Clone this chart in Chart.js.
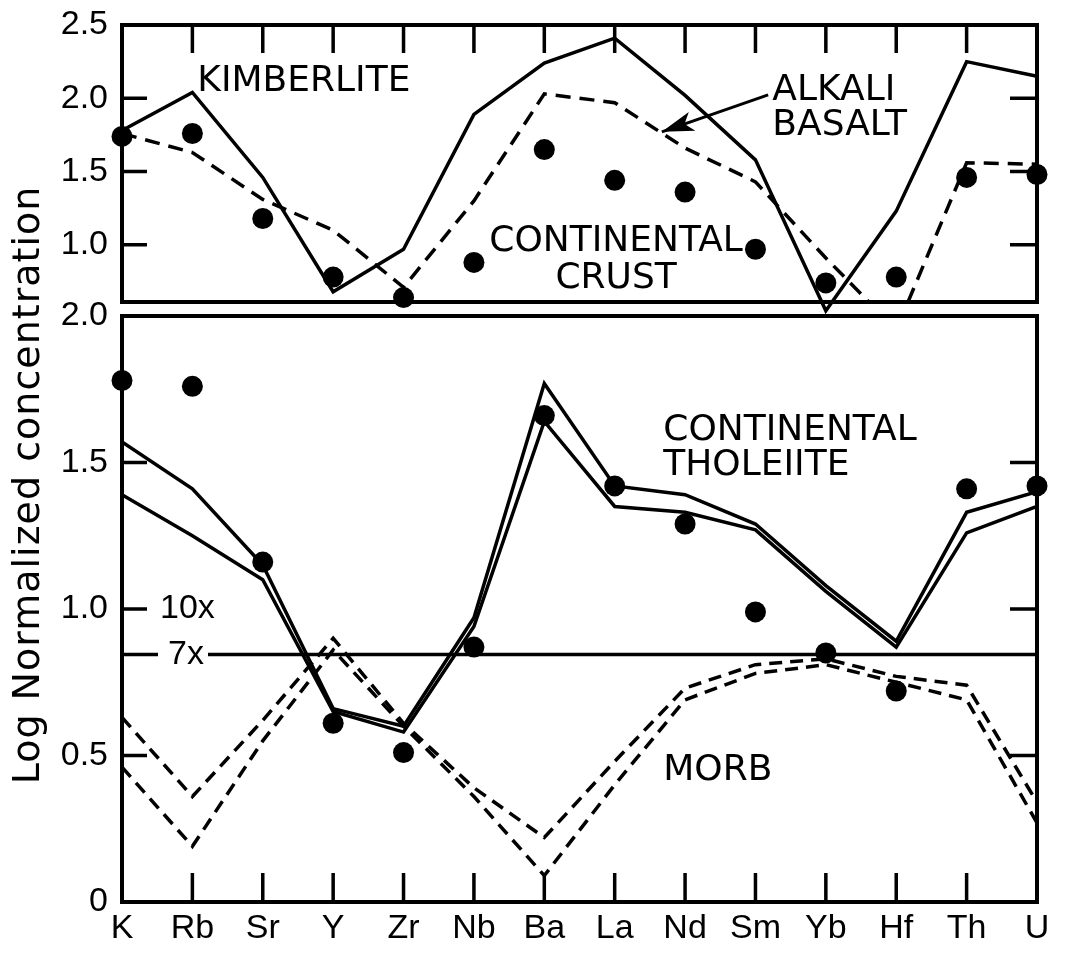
<!DOCTYPE html>
<html>
<head>
<meta charset="utf-8">
<script src="https://cdn.jsdelivr.net/npm/chart.js@4.4.1/dist/chart.umd.min.js"></script>
<style>
  html, body { margin: 0; padding: 0; background: #fff; }
  #wrap { width: 1078px; height: 956px; }
</style>
</head>
<body>
<div id="wrap"><canvas id="chart" width="1078" height="956"></canvas></div>
<script>
// trace elements along the x axis
const ELEMENTS = ['K', 'Rb', 'Sr', 'Y', 'Zr', 'Nb', 'Ba', 'La', 'Nd', 'Sm', 'Yb', 'Hf', 'Th', 'U'];

// upper panel (log normalized)
const KIMBERLITE    = [1.78, 2.04, 1.46, 0.68, 0.97, 1.89, 2.24, 2.41, 2.02, 1.58, 0.55, 1.23, 2.25, 2.15];
const ALKALI_BASALT = [1.76, 1.63, 1.31, 1.10, 0.71, 1.30, 2.03, 1.97, 1.66, 1.43, 0.91, 0.42, 1.56, 1.55];
const CRUST_UPPER   = [1.74, 1.76, 1.18, 0.78, 0.64, 0.88, 1.65, 1.44, 1.36, 0.97, 0.74, 0.78, 1.46, 1.48];

// lower panel
const THOLEIITE_A = [1.57, 1.41, 1.15, 0.66, 0.60, 0.97, 1.77, 1.42, 1.39, 1.29, 1.08, 0.89, 1.33, 1.40];
const THOLEIITE_B = [1.39, 1.25, 1.10, 0.65, 0.58, 0.94, 1.64, 1.35, 1.33, 1.27, 1.06, 0.87, 1.26, 1.35];
const MORB_A      = [0.63, 0.36, 0.62, 0.90, 0.61, 0.39, 0.22, 0.48, 0.73, 0.81, 0.83, 0.77, 0.74, 0.34];
const MORB_B      = [0.46, 0.19, 0.55, 0.86, 0.60, 0.36, 0.09, 0.40, 0.69, 0.78, 0.81, 0.75, 0.69, 0.27];
const CRUST_LOWER = [1.78, 1.76, 1.16, 0.61, 0.51, 0.87, 1.66, 1.42, 1.29, 0.99, 0.85, 0.72, 1.41, 1.42];

// axis ticks
const TOP_TICKS = [1.0, 1.5, 2.0, 2.5];
const BOTTOM_TICKS = [0, 0.5, 1.0, 1.5, 2.0];
const TOP_RANGE = [0.61, 2.5];
const BOTTOM_RANGE = [0, 2.0];
const TEN_X = 1.0;      // log 10
const SEVEN_X = 0.845;  // log 7

const INK = '#000';
// small lineHeight keeps the label padding from pushing the chart area down
const TICK_FONT = { family: 'Liberation Sans', size: 34, lineHeight: 0.4 };
const NOTE_FONT = '36px "DejaVu Sans"';

// text notes placed in data space: [category index, value]
const NOTES = [
  { text: 'KIMBERLITE', at: [1.07, 2.115], axis: 'yTop' },
  { text: 'ALKALI', at: [9.24, 2.05], axis: 'yTop' },
  { text: 'BASALT', at: [9.24, 1.815], axis: 'yTop' },
  { text: 'CONTINENTAL', at: [7.02, 1.02], axis: 'yTop', align: 'center' },
  { text: 'CRUST', at: [7.02, 0.77], axis: 'yTop', align: 'center' },
  { text: 'CONTINENTAL', at: [7.69, 1.61], axis: 'yBot' },
  { text: 'THOLEIITE', at: [7.69, 1.49], axis: 'yBot' },
  { text: 'MORB', at: [7.69, 0.45], axis: 'yBot' },
];

function lineSet(label, data, axis, dash) {
  return {
    label, data, yAxisID: axis,
    borderColor: INK, borderWidth: 3.5, borderDash: dash || [],
    pointRadius: 0, tension: 0, fill: false,
    clip: false, panelClip: true,
  };
}

function dotSet(label, data, axis) {
  return {
    label, data, yAxisID: axis, showLine: false,
    pointRadius: 10.5, pointBorderWidth: 0,
    pointBackgroundColor: INK, clip: false,
  };
}

function yAxis(min, max, weight, values) {
  return {
    type: 'linear', position: 'left', stack: 'panels', stackWeight: weight,
    min, max,
    afterBuildTicks: s => { s.ticks = values.map(v => ({ value: v })); },
    afterFit: s => { s.width = 122; },
    grid: { display: false, drawTicks: false },
    border: { display: false },
    ticks: {
      display: values.length > 0,
      color: INK, font: TICK_FONT, padding: 14,
      callback: v => (v === 0 ? '0' : v.toFixed(1)),
    },
  };
}

// clip the panel lines to their own half of the chart
const panelClip = {
  id: 'panelClip',
  beforeDatasetDraw(chart, args) {
    const ds = chart.data.datasets[args.index];
    if (!ds.panelClip) return;
    const s = chart.scales[ds.yAxisID];
    const { ctx, chartArea } = chart;
    ctx.save();
    ctx.beginPath();
    ctx.rect(chartArea.left, s.top, chartArea.right - chartArea.left, s.bottom - s.top);
    ctx.clip();
  },
  afterDatasetDraw(chart, args) {
    if (chart.data.datasets[args.index].panelClip) chart.ctx.restore();
  },
};

const frame = {
  id: 'frame',
  beforeDatasetsDraw(chart) {
    const { ctx, chartArea, scales } = chart;
    const { left, right } = chartArea;
    const x = scales.x, top = scales.yTop, bot = scales.yBot;
    const px = i => x.getPixelForValue(i);
    const py = (axis, v) => scales[axis].getPixelForValue(v);

    ctx.save();
    ctx.strokeStyle = INK;
    ctx.fillStyle = INK;
    ctx.lineWidth = 4;

    // panel boxes
    ctx.strokeRect(left, top.top, right - left, top.bottom - top.top);
    ctx.strokeRect(left, bot.top, right - left, bot.bottom - bot.top);

    // inward tick marks
    ctx.lineWidth = 3.5;
    ctx.beginPath();
    TOP_TICKS.filter(v => v < TOP_RANGE[1]).forEach(v => {
      const y = py('yTop', v);
      ctx.moveTo(left, y); ctx.lineTo(left + 25, y);
      ctx.moveTo(right, y); ctx.lineTo(right - 27, y);
    });
    BOTTOM_TICKS.filter(v => v > BOTTOM_RANGE[0] && v < BOTTOM_RANGE[1]).forEach(v => {
      const y = py('yBot', v);
      ctx.moveTo(left, y); ctx.lineTo(left + 25, y);
      ctx.moveTo(right, y); ctx.lineTo(right - 27, y);
    });
    for (let i = 1; i < ELEMENTS.length - 1; i++) {
      ctx.moveTo(px(i), top.top); ctx.lineTo(px(i), top.top + 28);
      ctx.moveTo(px(i), bot.bottom); ctx.lineTo(px(i), bot.bottom - 29);
    }
    ctx.stroke();

    // 7x reference line
    const y7 = py('yBot', SEVEN_X);
    ctx.beginPath();
    ctx.moveTo(left, y7); ctx.lineTo(right, y7);
    ctx.stroke();

    ctx.font = '34px "Liberation Sans"';
    ctx.textBaseline = 'middle';
    ctx.textAlign = 'left';
    ctx.fillStyle = '#fff';
    ctx.fillRect(158, y7 - 6, 50, 12);
    ctx.fillStyle = INK;
    ctx.fillText('7x', 168, y7);
    ctx.fillText('10x', 160, py('yBot', TEN_X));

    // notes
    ctx.font = NOTE_FONT;
    NOTES.forEach(n => {
      ctx.textAlign = n.align || 'left';
      ctx.fillText(n.text, px(n.at[0]), py(n.axis, n.at[1]));
    });

    // arrow from ALKALI BASALT label to the dashed curve
    const ax0 = px(9.18), ay0 = py('yTop', 2.023);
    const ax1 = px(7.67), ay1 = py('yTop', 1.771);
    const ang = Math.atan2(ay1 - ay0, ax1 - ax0);
    ctx.lineWidth = 3;
    ctx.beginPath();
    ctx.moveTo(ax0, ay0); ctx.lineTo(ax1, ay1);
    ctx.stroke();
    ctx.beginPath();
    ctx.moveTo(ax1, ay1);
    ctx.lineTo(ax1 - 32 * Math.cos(ang) + 10 * Math.sin(ang), ay1 - 32 * Math.sin(ang) - 10 * Math.cos(ang));
    ctx.lineTo(ax1 - 24 * Math.cos(ang), ay1 - 24 * Math.sin(ang));
    ctx.lineTo(ax1 - 32 * Math.cos(ang) - 10 * Math.sin(ang), ay1 - 32 * Math.sin(ang) + 10 * Math.cos(ang));
    ctx.closePath();
    ctx.fill();

    // shared y title
    ctx.save();
    ctx.translate(29, 485);
    ctx.rotate(-Math.PI / 2);
    ctx.font = '38px "DejaVu Sans"';
    ctx.letterSpacing = '1px';
    ctx.textAlign = 'center';
    ctx.fillText('Log Normalized concentration', 0, 0);
    ctx.restore();

    ctx.restore();
  },
};

new Chart(document.getElementById('chart'), {
  type: 'line',
  data: {
    labels: ELEMENTS,
    datasets: [
      dotSet('Continental crust', CRUST_UPPER, 'yTop'),
      dotSet('Continental crust', CRUST_LOWER, 'yBot'),
      Object.assign(lineSet('Kimberlite', KIMBERLITE, 'yTop'), { panelClip: false }),
      lineSet('Alkali basalt', ALKALI_BASALT, 'yTop', [15, 9]),
      lineSet('Continental tholeiite', THOLEIITE_A, 'yBot'),
      lineSet('Continental tholeiite', THOLEIITE_B, 'yBot'),
      lineSet('MORB', MORB_A, 'yBot', [13, 8]),
      lineSet('MORB', MORB_B, 'yBot', [13, 8]),
    ],
  },
  options: {
    responsive: false,
    animation: false,
    layout: { padding: { top: 25, right: 41, bottom: 0, left: 0 } },
    plugins: { legend: { display: false }, tooltip: { enabled: false } },
    scales: {
      x: {
        type: 'category',
        offset: false,
        afterFit: s => { s.height = 54; },
        grid: { display: false, drawTicks: false },
        border: { display: false },
        ticks: { color: INK, font: { family: 'Liberation Sans', size: 34 }, padding: 6, maxRotation: 0, autoSkip: false },
      },
      yBot: yAxis(BOTTOM_RANGE[0], BOTTOM_RANGE[1], 586, BOTTOM_TICKS),
      yGap: yAxis(0, 1, 14, []),
      yTop: yAxis(TOP_RANGE[0], TOP_RANGE[1], 277, TOP_TICKS),
    },
  },
  plugins: [panelClip, frame],
});
</script>
</body>
</html>
